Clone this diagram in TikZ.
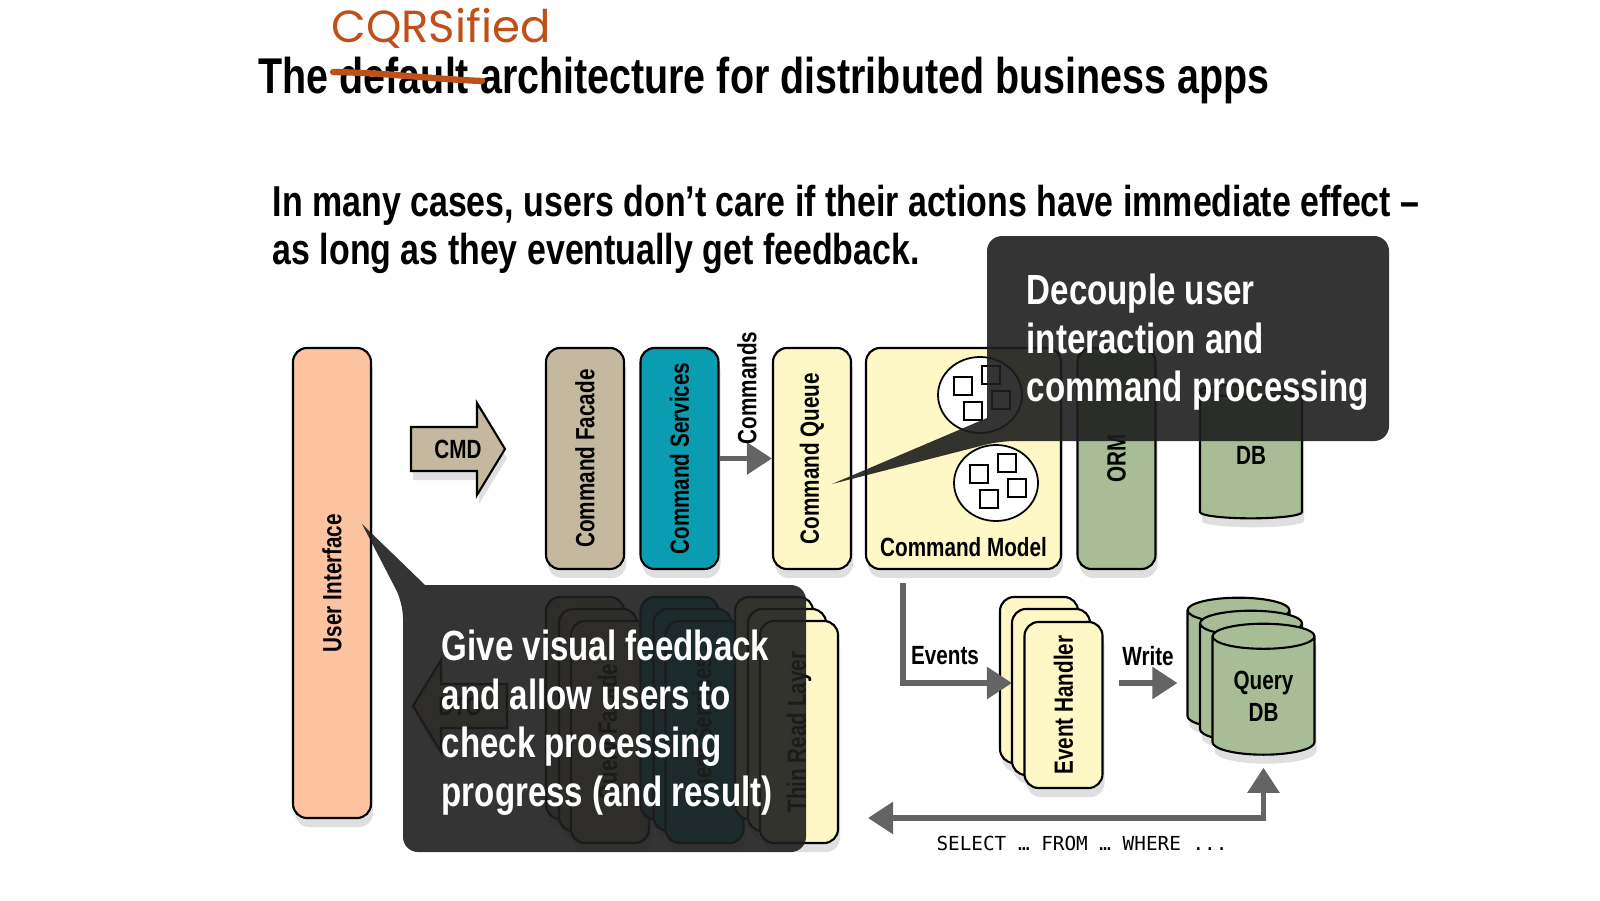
\documentclass[tikz,border=0pt]{standalone}
\usepackage{fontspec}
\setmainfont{Liberation Sans}[FakeStretch=0.785]
\setmonofont{DejaVu Sans Mono}
\newfontfamily\handfont{Poppins}
\usetikzlibrary{arrows.meta,shapes.geometric,shadows,calc}
\definecolor{uifill}{RGB}{253,195,161}
\definecolor{tanfill}{RGB}{196,185,159}
\definecolor{tealfill}{RGB}{10,156,176}
\definecolor{yelfill}{RGB}{253,248,197}
\definecolor{grnfill}{RGB}{168,189,150}
\definecolor{arrgray}{RGB}{100,100,100}
\definecolor{cobg}{RGB}{30,30,30}
\definecolor{scrawl}{RGB}{190,80,25}
\begin{document}
\begin{tikzpicture}[
  shd/.style={drop shadow={shadow xshift=0.2mm, shadow yshift=-0.9mm, opacity=0.25}},
  lab/.style={font=\bfseries\fontsize{7.5}{9}\selectfont},
  blk/.style={shd, lab, draw=black, line width=0.6pt, rounded corners=0.14cm,
    minimum width=0.78cm, minimum height=2.21cm, inner sep=0pt},
  cyl/.style={shd, lab, cylinder, shape border rotate=90, aspect=0.42, draw=black,
    line width=0.6pt, fill=grnfill, minimum width=1.02cm, minimum height=1.31cm,
    inner sep=0pt, align=center},
  blob/.style={ellipse, draw=black, line width=0.5pt, fill=white,
    minimum width=0.84cm, minimum height=0.76cm, inner sep=0pt},
  sq/.style={draw=black, line width=0.5pt, fill=white, minimum size=0.18cm, inner sep=0pt},
  flow/.style={draw=arrgray, line width=1.6pt, -{Triangle[length=2.5mm,width=3.1mm]}},
  fat/.style={shd, draw=black, line width=0.6pt, fill=tanfill},
  cob/.style={fill=cobg, fill opacity=0.9},
  cot/.style={anchor=north west, align=left, text=white, inner sep=0pt,
    font=\bfseries\fontsize{12}{13.9}\selectfont}]
\useasboundingbox (0,0) rectangle (16,9);
\node[anchor=base west, inner sep=0pt, font=\bfseries\fontsize{14.3}{16}\selectfont] (ttl)
  at (2.58,8.06) {The default architecture for distributed business apps};
\node[text=scrawl, inner sep=0pt, font=\handfont\fontsize{12.8}{14}\selectfont] (cq)
  at (4.41,8.72) {CQRSified};
\draw[scrawl, line width=1.8pt, line cap=round] (3.33,8.28) .. controls (3.9,8.27) and (4.3,8.21) .. (4.82,8.19);
\node[anchor=north west, align=left, inner sep=0pt, font=\bfseries\fontsize{12.3}{13.9}\selectfont] (sub)
  at (2.72,7.16) {In many cases, users don’t care if their actions have immediate effect –\\as long as they eventually get feedback.};
\node[blk, fill=uifill, minimum height=4.70cm] (ui) at (3.32,3.17) {\rotatebox{90}{User Interface}};
\foreach \n/\x/\c/\t in {cmdf/5.85/tanfill/Command Facade, cmds/6.795/tealfill/Command Services,
    cmdq/8.12/yelfill/Command Queue, orm/11.165/grnfill/ORM}
  \node[blk, fill=\c] (\n) at (\x,4.415) {\rotatebox{90}{\t}};
\node[blk, fill=yelfill, minimum width=1.95cm] (cmdm) at (9.635,4.415) {};
\node[lab] (cmdml) at (9.635,3.53) {Command Model};
\node[blob] (c1) at (9.80,5.05) {};
\node[blob] (c2) at (9.96,4.17) {};
\foreach \c in {c1,c2}
  \foreach \dx/\dy/\k in {-0.17/0.09/1, 0.11/0.20/2, 0.21/-0.05/3, -0.07/-0.16/4}
    \node[sq] (\c s\k) at ($(\c)+(\dx,\dy)$) {};
\node[cyl, minimum height=1.34cm] (db) at (12.51,4.45) {DB};
\draw[fat] (4.11,4.29) -- (4.77,4.29) -- (4.77,4.05) -- (5.05,4.51) -- (4.77,4.97) -- (4.77,4.73) -- (4.11,4.73) -- cycle;
\node[lab] (cmd) at (4.58,4.51) {CMD};
\draw[flow] (cmds.east) -- (cmdq.west);
\node[lab, rotate=90] (cmdsl) at (7.47,5.12) {Commands};
\foreach \n/\x/\c/\t in {qf/5.85/tanfill/Query Facade, qs/6.795/tealfill/Query Services,
    trl/7.74/yelfill/Thin Read Layer}{
  \node[blk, fill=\c, minimum height=2.22cm] (\n0) at (\x,1.92) {};
  \node[blk, fill=\c, minimum height=2.22cm] (\n1) at (\x+0.13,1.80) {};
  \node[blk, fill=\c, minimum height=2.22cm] (\n2) at (\x+0.25,1.68) {\rotatebox{90}{\t}};
}
\draw[fat] (5.07,1.72) -- (4.41,1.72) -- (4.41,1.48) -- (4.13,1.94) -- (4.41,2.40) -- (4.41,2.16) -- (5.07,2.16) -- cycle;
\node[lab] (dto) at (4.60,1.94) {DTO};
\node[blk, fill=yelfill, minimum height=1.66cm] (eh0) at (10.39,2.20) {};
\node[blk, fill=yelfill, minimum height=1.66cm] (eh1) at (10.51,2.08) {};
\node[blk, fill=yelfill, minimum height=1.66cm] (eh2) at (10.635,1.95) {\rotatebox{90}{Event Handler}};
\node[cyl] (qdb0) at (12.385,2.30) {\phantom{Query}\\\phantom{DB}};
\node[cyl] (qdb1) at (12.51,2.17) {\phantom{Query}\\\phantom{DB}};
\node[cyl] (qdb2) at (12.635,2.04) {Query\\DB};
\coordinate (evs) at (9.03,3.17);
\draw[flow] (evs) |- ($(eh0.west)+(0.13,-0.03)$);
\node[lab] (evl) at (9.45,2.44) {Events};
\draw[flow] ($(eh2.east |- eh0.west)+(0.15,-0.03)$) -- ($(qdb0.west |- eh0.west)+(-0.09,-0.03)$);
\node[lab] (wrl) at (11.48,2.44) {Write};
\coordinate (sel) at (8.68,0.82);
\draw[flow, {Triangle[length=2.5mm,width=3.1mm]}-{Triangle[length=2.5mm,width=3.1mm]}] (sel) -| ($(qdb2.south)+(0,-0.12)$);
\node[font=\ttfamily\fontsize{5.5}{6}\selectfont] (sql) at (10.82,0.57) {SELECT … FROM … WHERE ...};
\fill[cob] (11.5,6.64) [rounded corners=0.15cm] -- (13.89,6.64) -- (13.89,4.59) -- (10.00,4.59) [sharp corners]
  -- (8.32,4.16) -- (9.87,4.82) -- (9.87,5.6) [rounded corners=0.15cm] -- (9.87,6.64) -- cycle;
\node[cot] (dec) at (10.26,6.27) {Decouple user\\interaction and\\command processing};
\fill[cob] (6,0.48) [rounded corners=0.15cm] -- (4.03,0.48) -- (4.03,2.97) [sharp corners]
  -- (3.62,3.76) -- (4.25,3.15) -- (5,3.15) [rounded corners=0.15cm] -- (8.06,3.15) -- (8.06,0.48) -- cycle;
\node[cot] (fb) at (4.41,2.71) {Give visual feedback\\and allow users to\\check processing\\progress (and result)};
\end{tikzpicture}
\end{document}
